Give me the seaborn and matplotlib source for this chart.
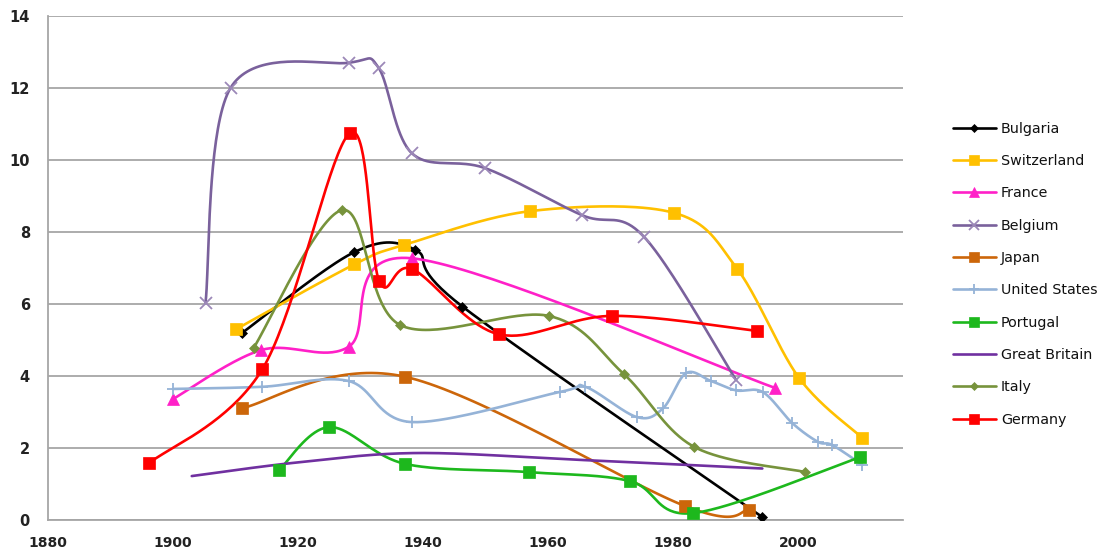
import numpy as np
import pandas as pd
import matplotlib
matplotlib.use("Agg")
import matplotlib.pyplot as plt
import seaborn as sns
from matplotlib.lines import Line2D

# ---- data ----
countries = ["Bulgaria", "Switzerland", "France", "Belgium", "Japan",
             "United States", "Portugal", "Great Britain", "Italy", "Germany"]

bulgaria_x = [1911, 1929, 1938.8, 1946.3, 1994.3]
bulgaria_y = [5.19, 7.44, 7.5, 5.93, 0.08]

switzerland_x = [1910.1, 1929, 1937, 1957.2, 1980.2, 1990.3, 2000.2, 2010.3]
switzerland_y = [5.3, 7.1, 7.64, 8.58, 8.53, 6.97, 3.94, 2.28]

france_x = [1900, 1914.1, 1928.1, 1938.2, 1996.3]
france_y = [3.36, 4.72, 4.81, 7.27, 3.67]

belgium_x = [1905.2, 1909.2, 1928.1, 1932.9, 1938.2, 1950, 1965.4, 1975.4, 1990.1]
belgium_y = [6.03, 12.0, 12.7, 12.56, 10.19, 9.77, 8.47, 7.86, 3.89]

japan_x = [1911.1, 1937.1, 1981.9, 1992.2]
japan_y = [3.11, 3.98, 0.39, 0.28]

us_x = [1900, 1914.3, 1928.1, 1938.2, 1962, 1966, 1974.2, 1978.4, 1982.1,
        1986.1, 1990.1, 1994.4, 1999.1, 2003.2, 2005.5, 2010.3]
us_y = [3.64, 3.7, 3.86, 2.72, 3.56, 3.7, 2.86, 3.1, 4.08,
        3.86, 3.6, 3.55, 2.69, 2.17, 2.08, 1.53]

portugal_x = [1917, 1925, 1937.1, 1956.9, 1973.1, 1983.2, 2010]
portugal_y = [1.39, 2.58, 1.56, 1.33, 1.08, 0.19, 1.75]

gb_x = [1903, 1920, 1939, 1965, 1994.3]
gb_y = [1.22, 1.6, 1.86, 1.67, 1.43]

italy_x = [1912.9, 1927.1, 1936.3, 1960.1, 1972.1, 1983.4, 2001.2]
italy_y = [4.78, 8.61, 5.42, 5.67, 4.06, 2.03, 1.33]

germany_x = [1896.2, 1914.3, 1928.3, 1933, 1938.3, 1952.1, 1970.2, 1993.5]
germany_y = [1.58, 4.19, 10.75, 6.64, 6.97, 5.16, 5.67, 5.25]

series_x = [bulgaria_x, switzerland_x, france_x, belgium_x, japan_x,
            us_x, portugal_x, gb_x, italy_x, germany_x]
series_y = [bulgaria_y, switzerland_y, france_y, belgium_y, japan_y,
            us_y, portugal_y, gb_y, italy_y, germany_y]

x_ticks = [1880, 1900, 1920, 1940, 1960, 1980, 2000]
y_ticks = [0, 2, 4, 6, 8, 10, 12, 14]

# ---- styles ----
colors = {"Bulgaria": "#000000", "Switzerland": "#FFC000", "France": "#FF20C8",
          "Belgium": "#7A619C", "Japan": "#CC660A", "United States": "#95B3D7",
          "Portugal": "#1DB81D", "Great Britain": "#7030A0", "Italy": "#77933C",
          "Germany": "#FF0000"}
markers = {"Bulgaria": "D", "Switzerland": "s", "France": "^", "Belgium": "x",
           "Japan": "s", "United States": "+", "Portugal": "s",
           "Great Britain": None, "Italy": "D", "Germany": "s"}
msizes = {"Bulgaria": 5, "Switzerland": 8, "France": 8, "Belgium": 8,
          "Japan": 8, "United States": 9, "Portugal": 9, "Great Britain": 0,
          "Italy": 5, "Germany": 8}
mcolors = dict(colors)
mcolors["Belgium"] = "#9C88B8"


def smooth(xs, ys, n=40):
    p = np.column_stack([xs, ys]).astype(float)
    if len(p) < 3:
        return p[:, 0], p[:, 1]
    ext = np.vstack([p[0], p, p[-1]])
    out = []
    t = np.linspace(0, 1, n)
    for i in range(1, len(ext) - 2):
        p0, p1, p2, p3 = ext[i - 1], ext[i], ext[i + 1], ext[i + 2]
        c1 = p1 + (p2 - p0) / 6.0
        c2 = p2 - (p3 - p1) / 6.0
        seg = ((1 - t) ** 3)[:, None] * p1 + (3 * (1 - t) ** 2 * t)[:, None] * c1 \
            + (3 * (1 - t) * t ** 2)[:, None] * c2 + (t ** 3)[:, None] * p2
        out.append(seg if i == 1 else seg[1:])
    out = np.vstack(out)
    return out[:, 0], out[:, 1]


rows = []
for c, xs, ys in zip(countries, series_x, series_y):
    sx, sy = smooth(xs, ys)
    for k, (a, b) in enumerate(zip(sx, sy)):
        rows.append({"country": c, "order": k, "year": a, "value": b})
curves = pd.DataFrame(rows)

pts = pd.DataFrame([{"country": c, "year": a, "value": b}
                    for c, xs, ys in zip(countries, series_x, series_y)
                    for a, b in zip(xs, ys)])

sns.set_theme(style="white")
plt.rcParams["font.family"] = ["DejaVu Sans"]

fig = plt.figure(figsize=(11.09, 5.53), dpi=100)
ax = fig.add_axes([0.0433, 0.0597, 0.7709, 0.9114])

for c in countries:
    sub = curves[curves["country"] == c]
    sns.lineplot(data=sub, x="year", y="value", sort=False, estimator=None,
                 color=colors[c], linewidth=1.9, ax=ax, legend=False, zorder=3)

for c in countries:
    if markers[c] is None:
        continue
    sub = pts[pts["country"] == c]
    ax.plot(sub["year"], sub["value"], linestyle="none", marker=markers[c],
            markersize=msizes[c], color=mcolors[c],
            markeredgewidth=1.3 if markers[c] in ("x", "+") else 0.5,
            zorder=4)

ax.set_xlim(1880, 2016.8)
ax.set_ylim(0, 14)
ax.set_xticks(x_ticks)
ax.set_yticks(y_ticks)
ax.set_xlabel("")
ax.set_ylabel("")
ax.yaxis.grid(True, color="#a6a6a6", linewidth=1.3)
ax.xaxis.grid(False)
ax.set_axisbelow(True)
for s in ["top", "right"]:
    ax.spines[s].set_visible(False)
for s in ["left", "bottom"]:
    ax.spines[s].set_color("#a6a6a6")
    ax.spines[s].set_linewidth(1.3)
ax.tick_params(axis="both", which="both", length=5, width=1.3, color="#a6a6a6",
               labelsize=10.5, labelcolor="#222222", direction="out")
ax.tick_params(axis="y", pad=8)
ax.tick_params(axis="x", pad=6.5, labelsize=10)
for lab in ax.get_xticklabels() + ax.get_yticklabels():
    lab.set_fontweight("semibold")

handles = []
for c in countries:
    handles.append(Line2D([0], [0], color=colors[c], linewidth=1.9,
                          marker=markers[c] if markers[c] else None,
                          markersize=max(msizes[c] * 0.85, 1),
                          markeredgecolor=mcolors[c], markerfacecolor=mcolors[c],
                          markeredgewidth=1.3 if markers[c] in ("x", "+") else 0.5))
leg = fig.legend(handles, countries, loc="upper left",
                 bbox_to_anchor=(940 / 1109, 1 - 109 / 553), frameon=False,
                 fontsize=10.3, handlelength=3.0, labelspacing=1.28,
                 handletextpad=0.35)
for t in leg.get_texts():
    t.set_color("#111111")

fig.savefig("out.png", dpi=100)
